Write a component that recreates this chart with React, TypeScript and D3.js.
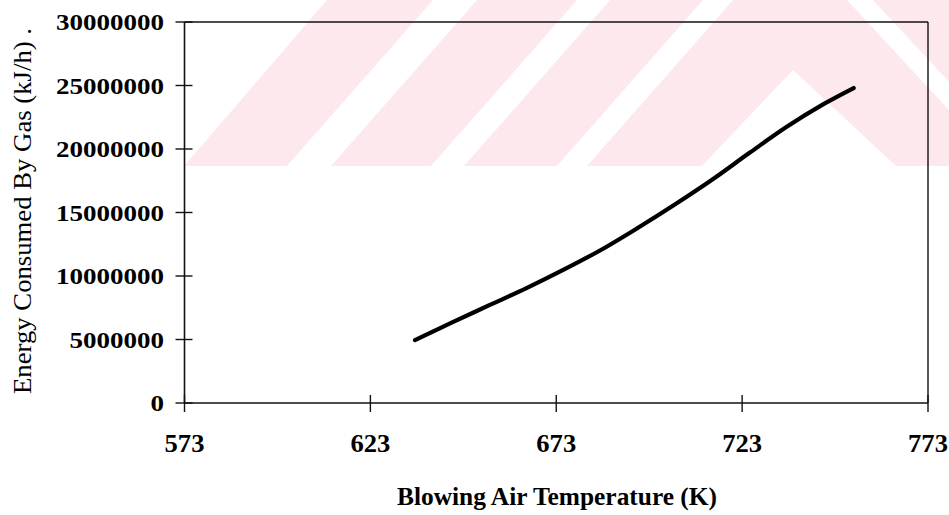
import React from "react";
import * as d3 from "d3";

// values
const temperatures = [635, 645, 655, 665, 675, 685, 695, 705, 715, 725, 735, 745, 753];
const energy = [
  4950000, 6350000, 7700000, 9050000, 10500000, 12050000, 13800000,
  15650000, 17600000, 19700000, 21750000, 23550000, 24800000,
];
const xTickValues = [573, 623, 673, 723, 773];
const xTickLabels = ["573", "623", "673", "723", "773"];
const yTickValues = [0, 5000000, 10000000, 15000000, 20000000, 25000000, 30000000];
const yTickLabels = ["0", "5000000", "10000000", "15000000", "20000000", "25000000", "30000000"];

const width = 949;
const height = 515;
const margin = { top: 22, right: 21, bottom: 112, left: 184.5 };
const font = "'Liberation Serif', 'Times New Roman', serif";

// faint background watermark of the scanned page
const watermark: [number, number][][] = [
  [[327, 0], [433, 0], [287, 166], [184, 166]],
  [[477, 0], [577, 0], [431, 166], [331, 166]],
  [[610, 0], [703, 0], [557, 166], [464, 166]],
  [[733, 0], [847, 0], [949, 110], [949, 166], [896, 166], [793, 70], [702, 166], [587, 166]],
  [[873, 0], [949, 0], [949, 82]],
];

const App = () => {
  const innerRight = width - margin.right;
  const innerBottom = height - margin.bottom;

  const xScale = d3.scaleLinear().domain([573, 773]).range([margin.left, innerRight]);
  const yScale = d3.scaleLinear().domain([0, 30000000]).range([innerBottom, margin.top]);

  const data = temperatures.map((t, i) => ({ t, e: energy[i] }));
  const lineGen = d3
    .line<{ t: number; e: number }>()
    .x(d => xScale(d.t))
    .y(d => yScale(d.e))
    .curve(d3.curveCatmullRom.alpha(0.5));

  return (
    <svg
      width={width}
      height={height}
      style={{ position: "absolute", left: 0, top: 0, background: "#fff" }}
    >
      {watermark.map((pts, i) => (
        <polygon key={i} points={pts.map(p => p.join(",")).join(" ")} fill="#fde9ed" />
      ))}

      {/* frame */}
      <line x1={margin.left} x2={innerRight} y1={margin.top} y2={margin.top} stroke="#111" strokeWidth={1.4} />
      <line x1={innerRight} x2={innerRight} y1={margin.top} y2={innerBottom} stroke="#111" strokeWidth={1.4} />
      <line x1={margin.left} x2={margin.left} y1={margin.top} y2={innerBottom} stroke="#111" strokeWidth={1.6} />
      <line x1={margin.left} x2={innerRight} y1={innerBottom} y2={innerBottom} stroke="#111" strokeWidth={1.6} />

      {/* y axis */}
      {yTickValues.map((v, i) => (
        <g key={v} transform={`translate(0, ${yScale(v)})`}>
          <line x1={margin.left - 9} x2={margin.left + 8} stroke="#111" strokeWidth={1.4} />
          <text
            x={164}
            y={8.3}
            textAnchor="end"
            fontFamily={font}
            fontWeight="bold"
            fontSize={24}
            textLength={yTickLabels[i].length * 13.5}
            lengthAdjust="spacingAndGlyphs"
          >
            {yTickLabels[i]}
          </text>
        </g>
      ))}

      {/* x axis */}
      {xTickValues.map((v, i) => (
        <g key={v} transform={`translate(${xScale(v)}, 0)`}>
          <line y1={innerBottom - 8} y2={innerBottom + 9} stroke="#111" strokeWidth={1.4} />
          <text
            x={0}
            y={452}
            textAnchor="middle"
            fontFamily={font}
            fontWeight="bold"
            fontSize={25}
            textLength={xTickLabels[i].length * 13.3}
            lengthAdjust="spacingAndGlyphs"
          >
            {xTickLabels[i]}
          </text>
        </g>
      ))}

      <path
        d={lineGen(data) || ""}
        fill="none"
        stroke="#000"
        strokeWidth={4.2}
        strokeLinecap="round"
        strokeLinejoin="round"
      />

      <text
        x={557}
        y={505}
        textAnchor="middle"
        fontFamily={font}
        fontWeight="bold"
        fontSize={26}
        textLength={320}
        lengthAdjust="spacingAndGlyphs"
      >
        Blowing Air Temperature (K)
      </text>

      <text
        transform={`translate(31, 211) rotate(-90)`}
        textAnchor="middle"
        fontFamily={font}
        fontSize={26}
        textLength={366}
        lengthAdjust="spacingAndGlyphs"
      >
        Energy Consumed By Gas (kJ/h) .
      </text>
    </svg>
  );
};

export default App;
